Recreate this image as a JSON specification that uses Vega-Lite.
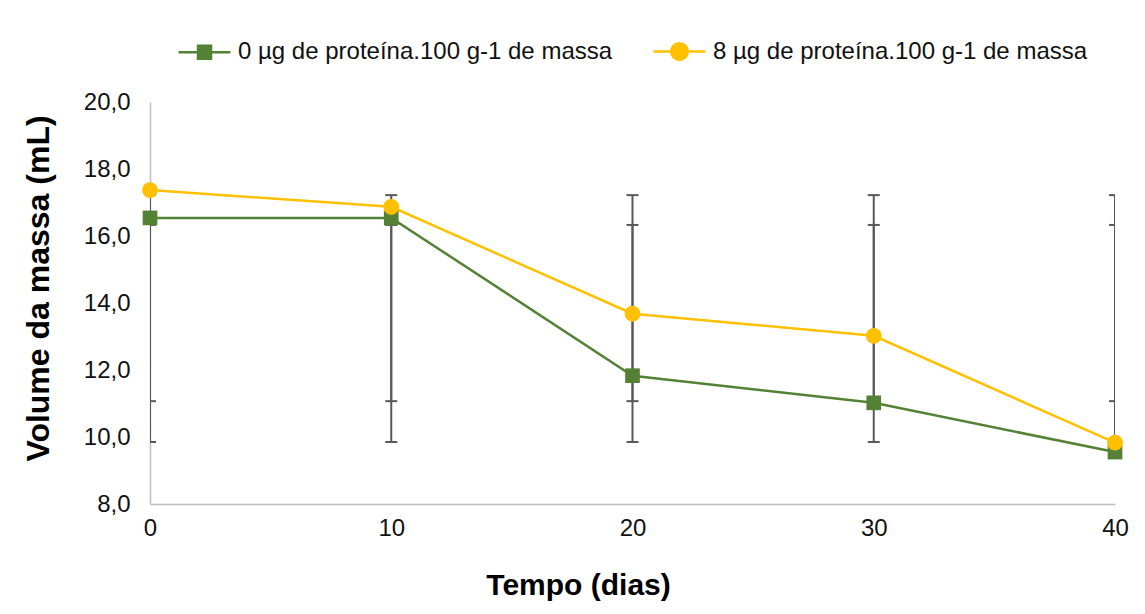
{
  "$schema": "https://vega.github.io/schema/vega-lite/v6.json",
  "width": 965,
  "height": 402,
  "autosize": "none",
  "padding": {"left": 150, "top": 102, "right": 30, "bottom": 110},
  "background": "white",
  "config": {"view": {"stroke": null}, "font": "Liberation Sans"},
  "data": {
    "values": [
      {"series": "0 µg de proteína.100 g-1 de massa", "dia": 0, "volume": 16.54, "lo": 9.85, "hi": 16.33},
      {"series": "0 µg de proteína.100 g-1 de massa", "dia": 10, "volume": 16.54, "lo": 9.85, "hi": 16.33},
      {"series": "0 µg de proteína.100 g-1 de massa", "dia": 20, "volume": 11.83, "lo": 9.85, "hi": 16.33},
      {"series": "0 µg de proteína.100 g-1 de massa", "dia": 30, "volume": 11.02, "lo": 9.85, "hi": 16.33},
      {"series": "0 µg de proteína.100 g-1 de massa", "dia": 40, "volume": 9.55, "lo": 9.85, "hi": 16.33},
      {"series": "8 µg de proteína.100 g-1 de massa", "dia": 0, "volume": 17.37, "lo": 11.07, "hi": 17.22},
      {"series": "8 µg de proteína.100 g-1 de massa", "dia": 10, "volume": 16.87, "lo": 11.07, "hi": 17.22},
      {"series": "8 µg de proteína.100 g-1 de massa", "dia": 20, "volume": 13.68, "lo": 11.07, "hi": 17.22},
      {"series": "8 µg de proteína.100 g-1 de massa", "dia": 30, "volume": 13.02, "lo": 11.07, "hi": 17.22},
      {"series": "8 µg de proteína.100 g-1 de massa", "dia": 40, "volume": 9.83, "lo": 11.07, "hi": 17.22}
    ]
  },
  "encoding": {
    "x": {
      "field": "dia",
      "type": "quantitative",
      "scale": {"domain": [0, 40], "nice": false, "zero": false},
      "axis": {
        "title": "Tempo (dias)",
        "values": [0, 10, 20, 30, 40],
        "format": "d",
        "grid": false,
        "ticks": false,
        "labelFlush": false,
        "labelOverlap": false,
        "domainColor": "#bfbfbf",
        "domainWidth": 1.5,
        "labelFontSize": 24,
        "labelColor": "#111111",
        "labelPadding": 12,
        "titleFontSize": 30,
        "titleFontWeight": "bold",
        "titleColor": "#000000",
        "titlePadding": 30,
        "titleX": 428
      }
    }
  },
  "layer": [
    {
      "mark": {"type": "rule", "color": "#595959", "strokeWidth": 2, "clip": true},
      "encoding": {
        "y": {"field": "lo", "type": "quantitative", "scale": {"domain": [8, 20], "nice": false, "zero": false}},
        "y2": {"field": "hi"}
      }
    },
    {
      "mark": {"type": "tick", "orient": "horizontal", "color": "#595959", "thickness": 2, "size": 12, "clip": true, "opacity": 1},
      "encoding": {"y": {"field": "lo", "type": "quantitative"}}
    },
    {
      "mark": {"type": "tick", "orient": "horizontal", "color": "#595959", "thickness": 2, "size": 12, "clip": true, "opacity": 1},
      "encoding": {"y": {"field": "hi", "type": "quantitative"}}
    },
    {
      "mark": {"type": "line", "strokeWidth": 2.5},
      "encoding": {
        "y": {
          "field": "volume",
          "type": "quantitative",
          "axis": {
            "title": "Volume da massa (mL)",
            "values": [8, 10, 12, 14, 16, 18, 20],
            "labelExpr": "replace(format(datum.value, '.1f'), '.', ',')",
            "grid": false,
            "ticks": false,
            "domainColor": "#bfbfbf",
            "domainWidth": 1.5,
            "labelFontSize": 24,
            "labelColor": "#111111",
            "labelPadding": 20,
            "titleFontSize": 32,
            "titleFontWeight": "bold",
            "titleColor": "#000000",
            "titlePadding": 28,
            "titleY": 186
          }
        },
        "color": {
          "field": "series",
          "type": "nominal",
          "scale": {"domain": ["0 µg de proteína.100 g-1 de massa", "8 µg de proteína.100 g-1 de massa"], "range": ["#548235", "#FFC000"]},
          "legend": {
            "title": null,
            "orient": "none",
            "legendX": 27,
            "legendY": -78,
            "direction": "horizontal",
            "symbolSize": 2704,
            "symbolStrokeWidth": 2.5,
            "labelFontSize": 24,
            "labelColor": "#111111",
            "labelOffset": 6,
            "columnPadding": 35,
            "labelLimit": 600,
            "encode": {
              "symbols": {
                "update": {
                  "shape": {"signal": "datum.index === 0 ? 'M-1,0H1M-0.25,-0.25H0.25V0.25H-0.25Z' : 'M-1,0H1M0.32,0A0.32,0.32,0,1,1,-0.32,0A0.32,0.32,0,1,1,0.32,0Z'"},
                  "fill": {"scale": "color", "field": "value"},
                  "stroke": {"scale": "color", "field": "value"},
                  "strokeWidth": {"value": 2.5},
                  "opacity": {"value": 1}
                }
              }
            }
          }
        }
      }
    },
    {
      "transform": [{"filter": "datum.series === '0 µg de proteína.100 g-1 de massa'"}],
      "mark": {"type": "point", "shape": "square", "filled": true, "opacity": 1, "size": 215},
      "encoding": {
        "y": {"field": "volume", "type": "quantitative"},
        "color": {"field": "series", "type": "nominal"}
      }
    },
    {
      "transform": [{"filter": "datum.series === '8 µg de proteína.100 g-1 de massa'"}],
      "mark": {"type": "point", "shape": "circle", "filled": true, "opacity": 1, "size": 250},
      "encoding": {
        "y": {"field": "volume", "type": "quantitative"},
        "color": {"field": "series", "type": "nominal"}
      }
    }
  ]
}
